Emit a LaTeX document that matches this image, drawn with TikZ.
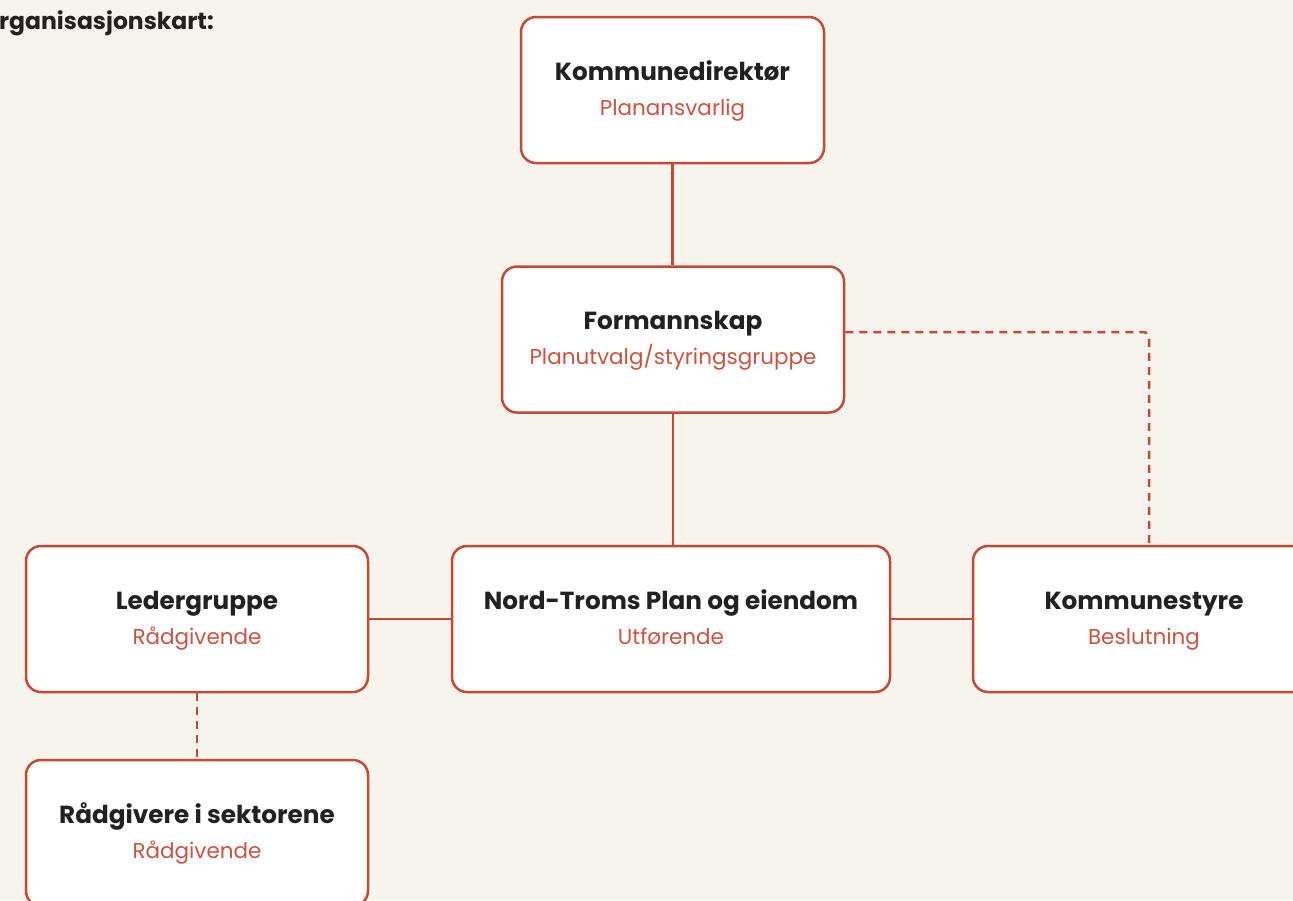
\documentclass[tikz,border=0pt]{standalone}
\usepackage{fontspec}
\setmainfont{Poppins}
\definecolor{bgc}{RGB}{247,244,238}
\definecolor{redc}{RGB}{196,74,52}
\definecolor{subc}{RGB}{203,84,64}
\definecolor{inkc}{RGB}{34,32,32}
\tikzset{
  box/.style={draw=redc, line width=2.5pt, fill=white, rounded corners=15pt,
    minimum height=146pt, align=center, inner sep=0pt,
    font=\fontsize{21.5}{35}\selectfont},
  solidline/.style={draw=redc, line width=2.2pt},
  dashline/.style={draw=redc, line width=2.5pt, dash pattern=on 8pt off 6pt}
}
\newcommand{\boxtext}[2]{\rule{0pt}{20.5pt}\smash{\bfseries\fontsize{24.7}{35}\selectfont\color{inkc}#1}\\\smash{\color{subc}#2}\rule[-5pt]{0pt}{5pt}}
\begin{document}
\begin{tikzpicture}[x=1pt,y=-1pt]
\useasboundingbox (0,0) rectangle (1293,900);
\fill[bgc] (0,0) rectangle (1293,900);
\begin{scope}
\clip (0,0) rectangle (1293,900);
\node[anchor=base west, inner sep=0pt, font=\bfseries\fontsize{23.5}{28}\selectfont, text=inkc] (title) at (-19.5,29) {Organisasjonskart:};
\node[box, minimum width=303pt] (kd) at (672.5,90) {\boxtext{Kommunedirektør}{Planansvarlig}};
\node[box, minimum width=342pt] (fm) at (673,339.5) {\boxtext{Formannskap}{Planutvalg/styringsgruppe}};
\node[box, minimum width=438pt] (nt) at (671,619) {\boxtext{Nord-Troms Plan og eiendom}{Utførende}};
\node[box, minimum width=342pt] (lg) at (197,619) {\boxtext{Ledergruppe}{Rådgivende}};
\node[box, minimum width=342pt] (ks) at (1144,619) {\boxtext{Kommunestyre}{Beslutning}};
\node[box, minimum width=342pt] (rg) at (197,833) {\boxtext{Rådgivere i sektorene}{Rådgivende}};
\coordinate (c1) at (1149,332);
\draw[solidline] (kd.south) -- (kd.south |- fm.north);
\draw[solidline] (fm.south) -- (fm.south |- nt.north);
\draw[solidline] (lg.east) -- (nt.west);
\draw[solidline] (nt.east) -- (ks.west);
\draw[dashline, rounded corners=6pt] (fm.east |- c1) -- (c1) -- (ks.north -| c1);
\draw[dashline] (lg.south) -- (rg.north);
\end{scope}
\end{tikzpicture}
\end{document}
